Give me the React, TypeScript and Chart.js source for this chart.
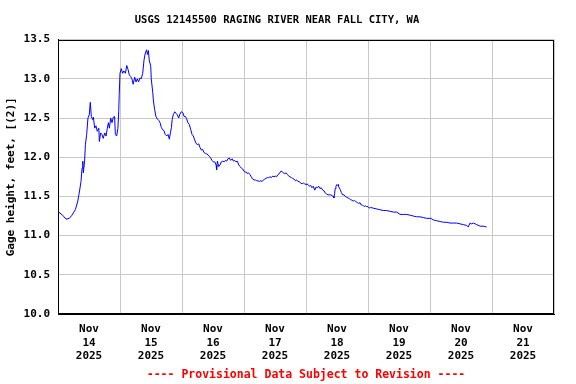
import React, { useEffect, useRef } from "react";
import { Chart, registerables } from "chart.js";

Chart.register(...registerables);

const TITLE = "USGS 12145500 RAGING RIVER NEAR FALL CITY, WA";
const FOOTER = "---- Provisional Data Subject to Revision ----";
const Y_TITLE = "Gage height, feet, [(2)]";

// x-axis: hours since Nov 14 2025 00:00
const xTickHours = [0, 12, 24, 36, 48, 60, 72, 84, 96, 108, 120, 132, 144, 156, 168, 180, 192];
const dayMonth = "Nov";
const dayNumbers = ["14", "15", "16", "17", "18", "19", "20", "21"];
const dayYear = "2025";
const yTicks = [10.0, 10.5, 11.0, 11.5, 12.0, 12.5, 13.0, 13.5];

const hoursSinceStart = [
  0.3, 1.8, 3.1, 4.4, 5.4, 6.7, 7.6, 8.2, 8.9, 9.3, 9.6, 9.8, 10.3, 10.6, 11.1, 11.6, 12.1, 12.5, 12.9, 13.4,
  13.7, 14.2, 14.7, 15.2, 15.8, 16.0, 16.5, 17.0, 17.5, 18.1, 18.6, 19.1, 19.5, 19.9, 20.4, 20.9, 21.4, 21.9, 22.2, 22.7,
  23.2, 23.5, 23.7, 24.0, 24.5, 25.0, 25.5, 26.1, 26.6, 27.1, 27.6, 28.1, 28.6, 29.1, 29.7, 30.2, 30.7, 31.2, 31.7, 32.2,
  32.8, 33.3, 33.8, 34.3, 34.6, 35.0, 35.3, 35.9, 36.1, 36.7, 36.9, 37.4, 37.9, 38.4, 39.0, 39.5, 40.0, 40.5, 41.0, 41.5,
  42.1, 42.6, 43.1, 43.5, 43.9, 44.2, 44.6, 45.2, 45.7, 46.2, 46.7, 47.2, 47.7, 48.3, 48.8, 49.3, 49.8, 50.3, 50.8, 51.4,
  51.9, 52.4, 52.9, 53.4, 53.9, 54.5, 55.0, 55.5, 56.0, 56.5, 57.0, 57.6, 58.1, 58.6, 59.1, 59.6, 60.1, 60.7, 61.2, 61.4,
  61.7, 62.2, 62.7, 63.2, 63.8, 64.3, 64.8, 65.3, 65.8, 66.3, 66.8, 67.4, 67.9, 68.4, 68.9, 69.4, 70.0, 70.5, 71.0, 71.5,
  72.0, 72.5, 73.0, 73.3, 73.8, 74.3, 74.8, 75.4, 75.9, 76.4, 76.9, 77.4, 77.9, 78.5, 79.0, 79.5, 80.0, 80.5, 81.0, 81.5,
  82.1, 82.6, 83.1, 83.6, 84.1, 84.6, 85.2, 85.7, 86.2, 86.7, 87.2, 87.7, 88.3, 88.8, 89.3, 89.8, 90.3, 90.8, 91.4, 91.9,
  92.4, 92.9, 93.4, 93.9, 94.5, 95.0, 95.5, 96.0, 96.3, 96.8, 97.3, 97.8, 98.3, 98.8, 99.4, 99.9, 100.4, 100.9, 101.4, 101.9,
  102.5, 103.0, 103.5, 104.0, 104.5, 105.0, 105.6, 106.1, 106.6, 106.8, 107.1, 107.3, 107.6, 107.9, 108.1, 108.4, 108.6, 108.9, 109.2, 109.7,
  110.2, 110.7, 111.2, 111.7, 112.3, 112.8, 113.3, 113.8, 114.3, 114.8, 115.4, 115.9, 116.4, 116.9, 117.4, 117.9, 118.5, 119.0, 119.5, 120.0,
  120.5, 121.0, 122.0, 123.4, 124.6, 125.9, 127.2, 128.5, 129.8, 131.1, 132.4, 133.7, 135.0, 136.3, 137.5, 138.8, 140.1, 141.4, 142.7, 144.3,
  145.3, 146.6, 147.9, 149.2, 150.5, 151.7, 153.0, 154.3, 155.6, 156.9, 158.2, 158.8, 159.5, 160.1, 160.8, 162.1, 163.4, 164.6, 165.9,
];

const gageHeightFt = [
  11.30, 11.26, 11.21, 11.22, 11.26, 11.33, 11.43, 11.54, 11.69, 11.86, 11.95, 11.80, 11.95, 12.16, 12.29, 12.50, 12.54, 12.70, 12.52, 12.48,
  12.51, 12.37, 12.40, 12.33, 12.37, 12.20, 12.31, 12.29, 12.24, 12.31, 12.27, 12.37, 12.44, 12.37, 12.50, 12.44, 12.51, 12.52, 12.29, 12.27,
  12.37, 12.58, 12.80, 13.07, 13.13, 13.07, 13.10, 13.07, 13.17, 13.12, 13.05, 13.03, 13.00, 12.93, 13.02, 12.96, 13.00, 12.96, 13.01, 13.00,
  13.07, 13.24, 13.33, 13.37, 13.31, 13.36, 13.24, 13.16, 13.00, 12.82, 12.73, 12.61, 12.52, 12.49, 12.47, 12.44, 12.38, 12.35, 12.34, 12.29,
  12.27, 12.29, 12.23, 12.31, 12.38, 12.48, 12.54, 12.58, 12.56, 12.54, 12.50, 12.55, 12.58, 12.57, 12.52, 12.52, 12.49, 12.44, 12.42, 12.35,
  12.29, 12.27, 12.22, 12.18, 12.16, 12.17, 12.12, 12.09, 12.10, 12.06, 12.05, 12.04, 12.03, 12.01, 11.99, 11.96, 11.94, 11.94, 11.90, 11.84,
  11.95, 11.88, 11.90, 11.94, 11.95, 11.94, 11.96, 11.95, 11.98, 11.99, 11.96, 11.98, 11.95, 11.96, 11.94, 11.95, 11.90, 11.88, 11.86, 11.85,
  11.82, 11.81, 11.81, 11.79, 11.80, 11.78, 11.75, 11.72, 11.71, 11.71, 11.70, 11.70, 11.69, 11.70, 11.69, 11.71, 11.72, 11.73, 11.74, 11.74,
  11.75, 11.74, 11.76, 11.75, 11.76, 11.75, 11.78, 11.79, 11.82, 11.82, 11.80, 11.79, 11.80, 11.78, 11.76, 11.75, 11.74, 11.73, 11.72, 11.70,
  11.71, 11.69, 11.69, 11.67, 11.66, 11.67, 11.66, 11.65, 11.66, 11.65, 11.63, 11.64, 11.61, 11.63, 11.58, 11.62, 11.61, 11.63, 11.60, 11.61,
  11.58, 11.57, 11.54, 11.53, 11.52, 11.52, 11.52, 11.51, 11.50, 11.48, 11.54, 11.60, 11.63, 11.65, 11.64, 11.65, 11.63, 11.61, 11.59, 11.55,
  11.52, 11.52, 11.50, 11.49, 11.48, 11.47, 11.46, 11.45, 11.44, 11.45, 11.43, 11.42, 11.41, 11.42, 11.39, 11.39, 11.37, 11.38, 11.37, 11.37,
  11.35, 11.36, 11.35, 11.34, 11.33, 11.32, 11.32, 11.31, 11.30, 11.30, 11.27, 11.27, 11.27, 11.26, 11.25, 11.24, 11.24, 11.23, 11.22, 11.22,
  11.20, 11.19, 11.18, 11.17, 11.17, 11.16, 11.16, 11.16, 11.15, 11.14, 11.13, 11.11, 11.16, 11.15, 11.16, 11.14, 11.12, 11.12, 11.11,
];

const FONT_FAMILY = "'DejaVu Sans Mono', 'Liberation Mono', monospace";
const GRID = "#c8c8c8";

const frameBorder = {
  id: "frameBorder",
  afterDraw(chart: any) {
    const { ctx, chartArea } = chart;
    ctx.save();
    ctx.strokeStyle = "#000";
    ctx.lineWidth = 1;
    ctx.strokeRect(
      Math.round(chartArea.left) + 0.5,
      Math.round(chartArea.top) + 0.5,
      Math.round(chartArea.right - chartArea.left) - 1,
      Math.round(chartArea.bottom - chartArea.top) - 1
    );
    ctx.restore();
  },
};

export default function App() {
  const canvasRef = useRef<HTMLCanvasElement | null>(null);

  useEffect(() => {
    document.body.style.margin = "0";
    const canvas = canvasRef.current;
    if (!canvas) return;
    const points = hoursSinceStart.map((h, i) => ({ x: h, y: gageHeightFt[i] }));
    const tickFont = { family: FONT_FAMILY, size: 11, weight: "bold" as const };

    const chart = new Chart(canvas, {
      type: "line",
      data: {
        datasets: [
          {
            data: points,
            borderColor: "#0000ff",
            borderWidth: 1,
            pointRadius: 0,
            tension: 0,
            fill: false,
          },
        ],
      },
      options: {
        animation: false,
        responsive: false,
        events: [],
        layout: { padding: { left: 0, right: 22, top: 0, bottom: 0 } },
        plugins: {
          legend: { display: false },
          tooltip: { enabled: false },
          title: {
            display: true,
            text: TITLE,
            color: "#000",
            font: { family: FONT_FAMILY, size: 10.5, weight: "bold" },
            padding: { top: 14, bottom: 13 },
          },
          subtitle: {
            display: true,
            position: "bottom",
            fullSize: false,
            text: FOOTER,
            color: "#ff0000",
            font: { family: FONT_FAMILY, size: 11.5, weight: "bold" },
            padding: { top: 6, bottom: 2 },
          },
        },
        scales: {
          x: {
            type: "linear",
            min: 0,
            max: 192,
            afterBuildTicks: (scale: any) => {
              scale.ticks = xTickHours.map((v) => ({ value: v }));
            },
            afterFit: (scale: any) => {
              scale.height = 48.2;
            },
            grid: {
              color: (ctx: any) =>
                ctx.tick && ctx.tick.value % 24 === 0 ? GRID : "rgba(0,0,0,0)",
              drawTicks: false,
              lineWidth: 1,
            },
            border: { display: true, color: "#000", width: 1 },
            ticks: {
              autoSkip: false,
              maxRotation: 0,
              minRotation: 0,
              padding: 9,
              color: "#000",
              font: tickFont,
              callback: (v: any) => {
                const n = Number(v);
                if (n % 24 !== 12) return "";
                return [dayMonth, dayNumbers[Math.floor(n / 24)], dayYear];
              },
            },
          },
          y: {
            type: "linear",
            min: 10,
            max: 13.5,
            afterBuildTicks: (scale: any) => {
              scale.ticks = yTicks.map((v) => ({ value: v }));
            },
            afterFit: (scale: any) => {
              scale.width = 58;
            },
            grid: { color: GRID, drawTicks: false, lineWidth: 1 },
            border: { display: true, color: "#000", width: 1 },
            ticks: {
              padding: 8,
              color: "#000",
              font: tickFont,
              callback: (v: any) => Number(v).toFixed(1),
            },
            title: {
              display: true,
              text: Y_TITLE,
              color: "#000",
              font: { family: FONT_FAMILY, size: 11, weight: "bold" },
              padding: { top: 5, bottom: 0 },
            },
          },
        },
      },
      plugins: [frameBorder],
    });

    return () => chart.destroy();
  }, []);

  return (
    <div style={{ width: 576, height: 384, background: "#fff" }}>
      <canvas ref={canvasRef} width={576} height={384} />
    </div>
  );
}
